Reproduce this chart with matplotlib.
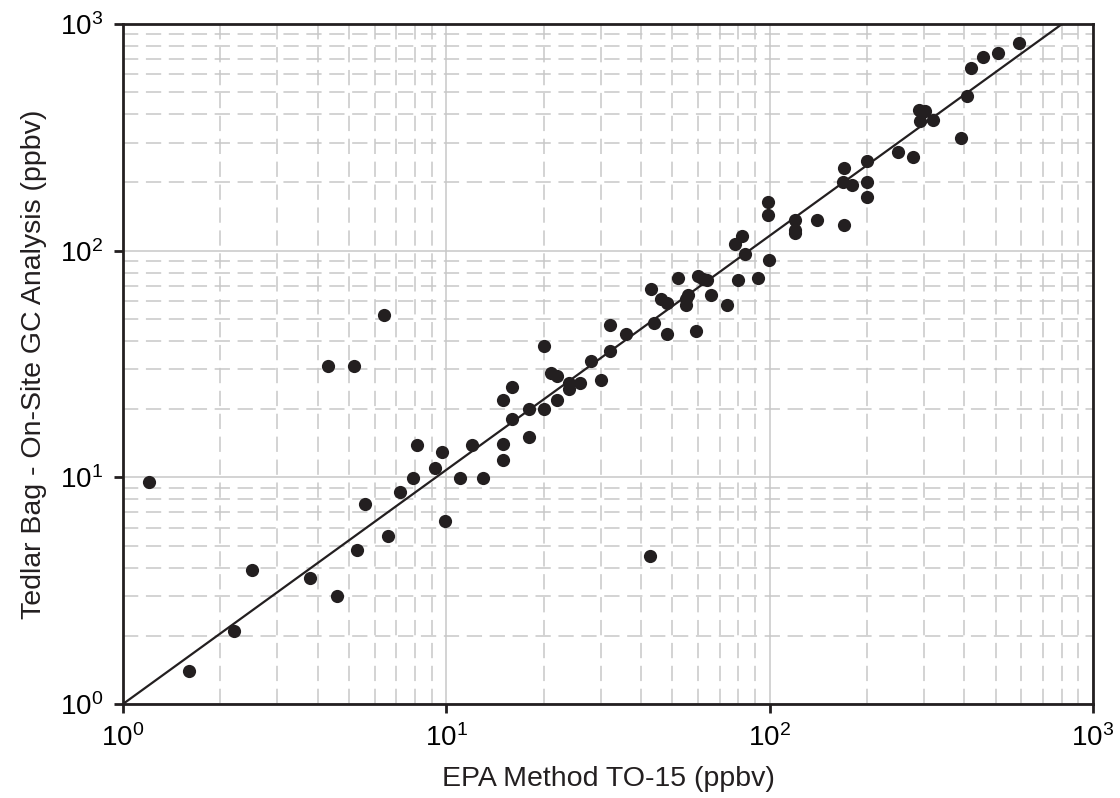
import numpy as np
import matplotlib
matplotlib.use('Agg')
import matplotlib.pyplot as plt
from matplotlib.ticker import LogLocator, NullFormatter

plt.rcParams['font.family'] = ['Liberation Sans', 'DejaVu Sans']
plt.rcParams['mathtext.default'] = 'regular'

# EPA Method TO-15 (x) vs Tedlar bag on-site GC (y), ppbv
epa = [1.2, 1.6, 2.2, 2.5, 3.8, 4.6, 5.3, 5.6, 6.6, 7.2, 7.9, 8.1, 9.2, 9.7, 9.9,
       11, 12, 13, 15, 15, 15, 16, 16, 18, 18, 20, 20, 21, 22, 22, 24, 24, 26,
       28, 30, 32, 32, 36, 42.5, 43, 44, 46, 48, 48, 52, 55, 55, 56, 59, 60, 62,
       64, 66, 74, 78, 80, 82, 84, 92, 99.5, 99, 99, 120, 120, 120, 140, 170,
       168, 170, 180, 200, 200, 200, 250, 277, 290, 292, 302, 320, 391, 408,
       420, 457, 508, 590, 4.3, 5.2, 6.4]
tedlar = [9.5, 1.4, 2.1, 3.9, 3.6, 3.0, 4.8, 7.6, 5.5, 8.6, 9.9, 13.9, 11, 12.9, 6.4,
          9.9, 13.9, 9.9, 11.9, 14, 22, 18, 25, 15, 20, 20, 38, 29, 28, 22, 24.5, 26, 26,
          32.5, 27, 36, 47, 43, 4.5, 68, 48, 61, 59, 43, 76, 57.5, 61, 64, 44, 77, 75,
          74, 64, 57.5, 107, 74, 116, 97, 76, 91, 143, 164, 120, 124, 136, 136, 130,
          201, 231, 195, 201, 248, 172, 272, 259, 417, 373, 413, 377, 314, 481,
          639, 714, 744, 824, 31, 31, 52]

# fitted line in log space: log y = slope * log x
fit_slope = 1.033
fit_intercept = 0.0

ink = '#231f20'

fig = plt.figure(figsize=(11.2, 7.98), dpi=100)
ax = fig.add_axes([0.1098, 0.1178, 0.8661, 0.8521])
ax.set_xscale('log')
ax.set_yscale('log')
ax.set_xlim(1, 1000)
ax.set_ylim(1, 1000)

ax.xaxis.set_major_locator(LogLocator(base=10, numticks=10))
ax.yaxis.set_major_locator(LogLocator(base=10, numticks=10))
ax.xaxis.set_minor_locator(LogLocator(base=10, subs=np.arange(2, 10), numticks=20))
ax.yaxis.set_minor_locator(LogLocator(base=10, subs=np.arange(2, 10), numticks=20))
ax.xaxis.set_minor_formatter(NullFormatter())
ax.yaxis.set_minor_formatter(NullFormatter())

ax.grid(True, which='major', color='#c8c8c8', linewidth=1.1, linestyle='-', zorder=0)
ax.grid(True, which='minor', color='#c8c8c8', linewidth=1.1, linestyle=(0, (10, 5)), zorder=0)
ax.set_axisbelow(True)

xs = np.logspace(0, 3, 200)
ax.plot(xs, 10 ** (fit_intercept + fit_slope * np.log10(xs)), color=ink, linewidth=1.6, zorder=3)
ax.plot(epa, tedlar, 'o', color=ink, markersize=9.5, markeredgewidth=0, zorder=4)

for s in ax.spines.values():
    s.set_linewidth(2.0)
    s.set_color(ink)

ax.tick_params(which='major', direction='out', length=6.5, width=2.0, color=ink,
               labelsize=20, pad=8, top=False, right=False)
ax.tick_params(which='minor', length=0)

ax.set_xlabel('EPA Method TO-15 (ppbv)', fontsize=20.5, labelpad=10, color=ink)
ax.set_ylabel('Tedlar Bag - On-Site GC Analysis (ppbv)', fontsize=20.5, labelpad=9, color=ink)

fig.savefig('out.png', dpi=100)
